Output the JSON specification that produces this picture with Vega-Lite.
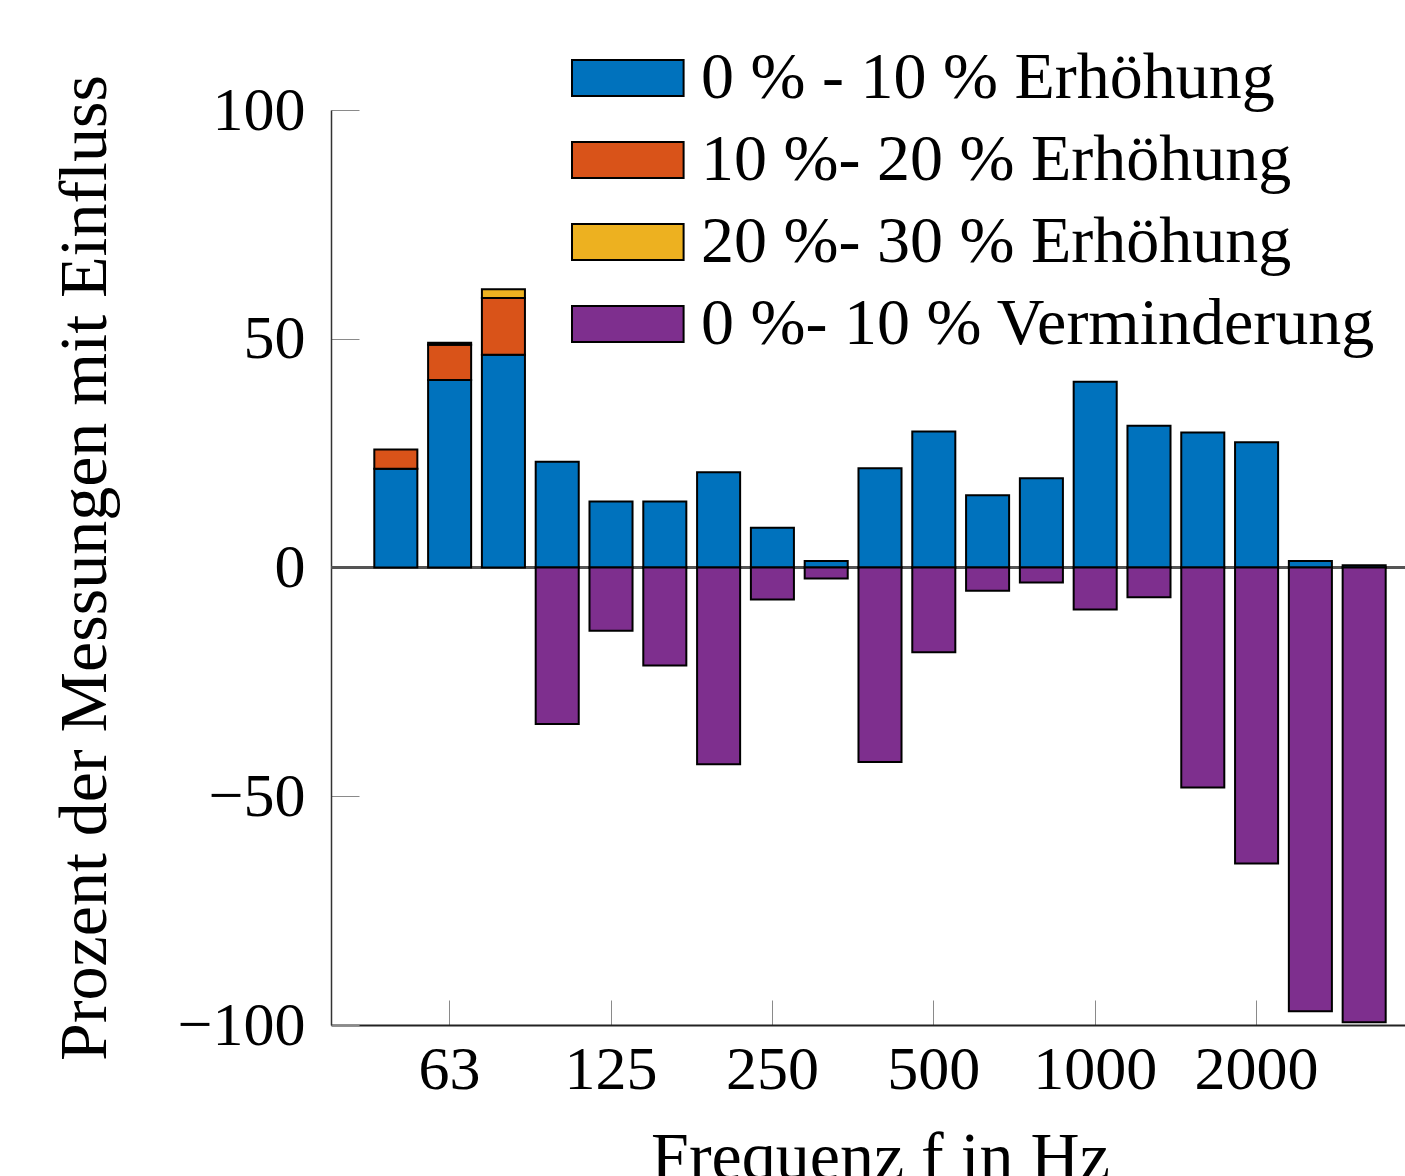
{
  "$schema": "https://vega.github.io/schema/vega-lite/v6.json",
  "width": 1098,
  "height": 915,
  "autosize": "none",
  "padding": {"left": 331, "top": 110, "right": 0, "bottom": 151},
  "background": "white",
  "config": {
    "view": {"stroke": null},
    "font": "Liberation Serif"
  },
  "data": {
    "values": [
      {"f": "50", "s": "0 % - 10 % Erhöhung", "v": 21.6, "o": 1},
      {"f": "50", "s": "10 %- 20 % Erhöhung", "v": 4.2, "o": 2},
      {"f": "63", "s": "0 % - 10 % Erhöhung", "v": 41.0, "o": 1},
      {"f": "63", "s": "10 %- 20 % Erhöhung", "v": 7.7, "o": 2},
      {"f": "63", "s": "20 %- 30 % Erhöhung", "v": 0.4, "o": 3},
      {"f": "80", "s": "0 % - 10 % Erhöhung", "v": 46.5, "o": 1},
      {"f": "80", "s": "10 %- 20 % Erhöhung", "v": 12.4, "o": 2},
      {"f": "80", "s": "20 %- 30 % Erhöhung", "v": 1.9, "o": 3},
      {"f": "100", "s": "0 % - 10 % Erhöhung", "v": 23.1, "o": 1},
      {"f": "100", "s": "0 %- 10 % Verminderung", "v": -34.2, "o": 4},
      {"f": "125", "s": "0 % - 10 % Erhöhung", "v": 14.4, "o": 1},
      {"f": "125", "s": "0 %- 10 % Verminderung", "v": -13.8, "o": 4},
      {"f": "160", "s": "0 % - 10 % Erhöhung", "v": 14.4, "o": 1},
      {"f": "160", "s": "0 %- 10 % Verminderung", "v": -21.4, "o": 4},
      {"f": "200", "s": "0 % - 10 % Erhöhung", "v": 20.8, "o": 1},
      {"f": "200", "s": "0 %- 10 % Verminderung", "v": -43.0, "o": 4},
      {"f": "250", "s": "0 % - 10 % Erhöhung", "v": 8.7, "o": 1},
      {"f": "250", "s": "0 %- 10 % Verminderung", "v": -7.0, "o": 4},
      {"f": "315", "s": "0 % - 10 % Erhöhung", "v": 1.4, "o": 1},
      {"f": "315", "s": "0 %- 10 % Verminderung", "v": -2.4, "o": 4},
      {"f": "400", "s": "0 % - 10 % Erhöhung", "v": 21.7, "o": 1},
      {"f": "400", "s": "0 %- 10 % Verminderung", "v": -42.5, "o": 4},
      {"f": "500", "s": "0 % - 10 % Erhöhung", "v": 29.7, "o": 1},
      {"f": "500", "s": "0 %- 10 % Verminderung", "v": -18.5, "o": 4},
      {"f": "630", "s": "0 % - 10 % Erhöhung", "v": 15.8, "o": 1},
      {"f": "630", "s": "0 %- 10 % Verminderung", "v": -5.1, "o": 4},
      {"f": "800", "s": "0 % - 10 % Erhöhung", "v": 19.5, "o": 1},
      {"f": "800", "s": "0 %- 10 % Verminderung", "v": -3.3, "o": 4},
      {"f": "1000", "s": "0 % - 10 % Erhöhung", "v": 40.6, "o": 1},
      {"f": "1000", "s": "0 %- 10 % Verminderung", "v": -9.2, "o": 4},
      {"f": "1250", "s": "0 % - 10 % Erhöhung", "v": 31.0, "o": 1},
      {"f": "1250", "s": "0 %- 10 % Verminderung", "v": -6.5, "o": 4},
      {"f": "1600", "s": "0 % - 10 % Erhöhung", "v": 29.5, "o": 1},
      {"f": "1600", "s": "0 %- 10 % Verminderung", "v": -48.1, "o": 4},
      {"f": "2000", "s": "0 % - 10 % Erhöhung", "v": 27.4, "o": 1},
      {"f": "2000", "s": "0 %- 10 % Verminderung", "v": -64.7, "o": 4},
      {"f": "2500", "s": "0 % - 10 % Erhöhung", "v": 1.4, "o": 1},
      {"f": "2500", "s": "0 %- 10 % Verminderung", "v": -97.0, "o": 4},
      {"f": "3150", "s": "0 % - 10 % Erhöhung", "v": 0.5, "o": 1},
      {"f": "3150", "s": "0 %- 10 % Verminderung", "v": -99.4, "o": 4}
    ]
  },
  "encoding": {
    "x": {
      "field": "f",
      "type": "nominal",
      "sort": ["50","63","80","100","125","160","200","250","315","400","500","630","800","1000","1250","1600","2000","2500","3150"],
      "scale": {"paddingInner": 0.2, "paddingOuter": 0.805},
      "axis": {
        "values": ["63","125","250","500","1000","2000"],
        "labelAngle": 0,
        "tickSize": -25,
        "tickColor": "#8a8a8a",
        "tickWidth": 1,
        "domainColor": "#222222",
        "domainWidth": 2,
        "labelFont": "Liberation Serif",
        "labelFontSize": 62,
        "labelColor": "black",
        "labelPadding": 39,
        "title": "Frequenz f in Hz",
        "titleFont": "Liberation Serif",
        "titleFontSize": 68,
        "titleFontWeight": "normal",
        "titleColor": "black",
        "titlePadding": 24
      }
    },
    "y": {
      "field": "v",
      "type": "quantitative",
      "stack": "zero",
      "scale": {"domain": [-100, 100], "nice": false},
      "axis": {
        "values": [-100, -50, 0, 50, 100],
        "grid": false,
        "tickSize": -28,
        "tickColor": "#8a8a8a",
        "tickWidth": 1,
        "domainColor": "#333333",
        "domainWidth": 1.5,
        "labelFont": "Liberation Serif",
        "labelFontSize": 62,
        "labelColor": "black",
        "labelPadding": 54,
        "title": "Prozent der Messungen mit Einfluss",
        "titleFont": "Liberation Serif",
        "titleFontSize": 68,
        "titleFontWeight": "normal",
        "titleColor": "black",
        "titlePadding": 58
      }
    }
  },
  "layer": [
    {
      "mark": {"type": "rule", "color": "#555555", "strokeWidth": 1.5},
      "encoding": {"y": {"datum": 0}, "x": null}
    },
    {
      "mark": {"type": "bar", "stroke": "black", "strokeWidth": 2, "opacity": 1},
      "encoding": {
        "color": {
          "field": "s",
          "type": "nominal",
          "scale": {
            "domain": ["0 % - 10 % Erhöhung", "10 %- 20 % Erhöhung", "20 %- 30 % Erhöhung", "0 %- 10 % Verminderung"],
            "range": ["#0072BD", "#D95319", "#EDB120", "#7E2F8E"]
          },
          "legend": {
            "title": null,
            "orient": "none",
            "legendX": 226,
            "legendY": -65,
            "padding": 0,
            "symbolType": "M-1,-1H5.2V1H-1Z",
            "symbolSize": 1296,
            "symbolStrokeColor": "black",
            "symbolStrokeWidth": 2,
            "symbolOpacity": 1,
            "labelFont": "Liberation Serif",
            "labelFontSize": 66,
            "labelColor": "black",
            "labelLimit": 2000,
            "labelOffset": 78,
            "rowPadding": 16
          }
        },
        "order": {"field": "o", "type": "quantitative"}
      }
    }
  ]
}
